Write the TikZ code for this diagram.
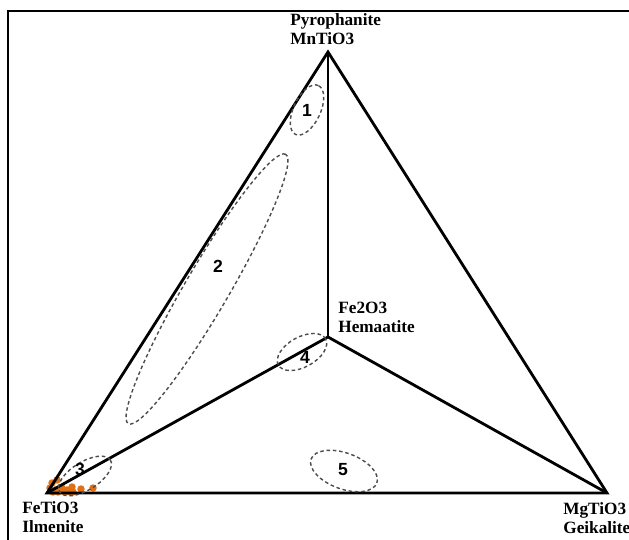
\documentclass[tikz,border=0pt]{standalone}
\usepackage{fontspec}
\setmainfont{Liberation Serif}
\setsansfont{Liberation Sans}
\usepackage{tikz}
\usetikzlibrary{positioning}
\definecolor{ilmdot}{RGB}{222,112,24}
\tikzstyle{sideline} = [line width=1.6pt, line join=miter]
\tikzstyle{zone} = [gray!60!black, line width=0.8pt, dash pattern=on 2pt off 1.6pt]
\tikzstyle{mineral} = [inner sep=0pt, align=left, font=\fontsize{9.8}{10.8}\selectfont\bfseries]
\tikzstyle{zonenum} = [inner sep=0pt, font=\fontsize{10}{11}\selectfont\sffamily\bfseries]

\begin{document}
\begin{tikzpicture}[x=0.02cm, y=-0.02cm]
\useasboundingbox (0,0) rectangle (629,540);

%% Ramme %%
\draw[line width=1.6pt] (8,540) |- (629,11);

%% Hjoerner %%
\coordinate (Pyrophanite) at (328,52);
\coordinate (Ilmenite) at (47,493);
\coordinate (Geikalite) at (607,493);
\coordinate (Hematite) at (328,337);

%% Punkter %%
\foreach \px/\py in {52/483, 57/480, 50/488, 55/490, 62/488, 67/490, 72/487, 81/489, 93/488, 58/492, 65/492, 73/492, 53/492, 70/492}
  \fill[ilmdot] (\px,\py) circle (0.075cm);

%% Trekant %%
\draw[sideline] (Ilmenite) -- (Pyrophanite) -- (Geikalite) -- cycle;
\draw[sideline] (Pyrophanite) -- (Hematite);
\draw[sideline] (Ilmenite) -- (Hematite) -- (Geikalite);

%% Navne %%
\node [mineral, anchor=west] (PyroLabel) at (290,29.5) {Pyrophanite\\MnTiO3};
\node [mineral, anchor=west] (HemLabel) at (338,317.5) {Fe2O3\\Hemaatite};
\node [mineral, anchor=west] (IlmLabel) at (22,517.5) {FeTiO3\\Ilmenite};
\node [mineral, anchor=west] (GeiLabel) at (563,518.5) {MgTiO3\\Geikalite};

%% Zoner %%
\draw[zone, rotate around={65:(307,110)}] (307,110) ellipse (0.54cm and 0.27cm);
\draw[zone, rotate around={59.7:(207,289)}] (207,289) ellipse (3.12cm and 0.44cm);
\draw[zone, rotate around={32:(85,476)}] (85,476) ellipse (0.6cm and 0.28cm);
\draw[zone, rotate around={29:(302,352)}] (302,352) ellipse (0.54cm and 0.3cm);
\draw[zone, rotate around={-20:(344,471)}] (344,471) ellipse (0.7cm and 0.36cm);

\node [zonenum] (Zone1) at (307,110) {1};
\node [zonenum] (Zone2) at (218,266) {2};
\node [zonenum] (Zone3) at (80,469) {3};
\node [zonenum] (Zone4) at (305,357) {4};
\node [zonenum] (Zone5) at (343,470) {5};
\end{tikzpicture}
\end{document}
